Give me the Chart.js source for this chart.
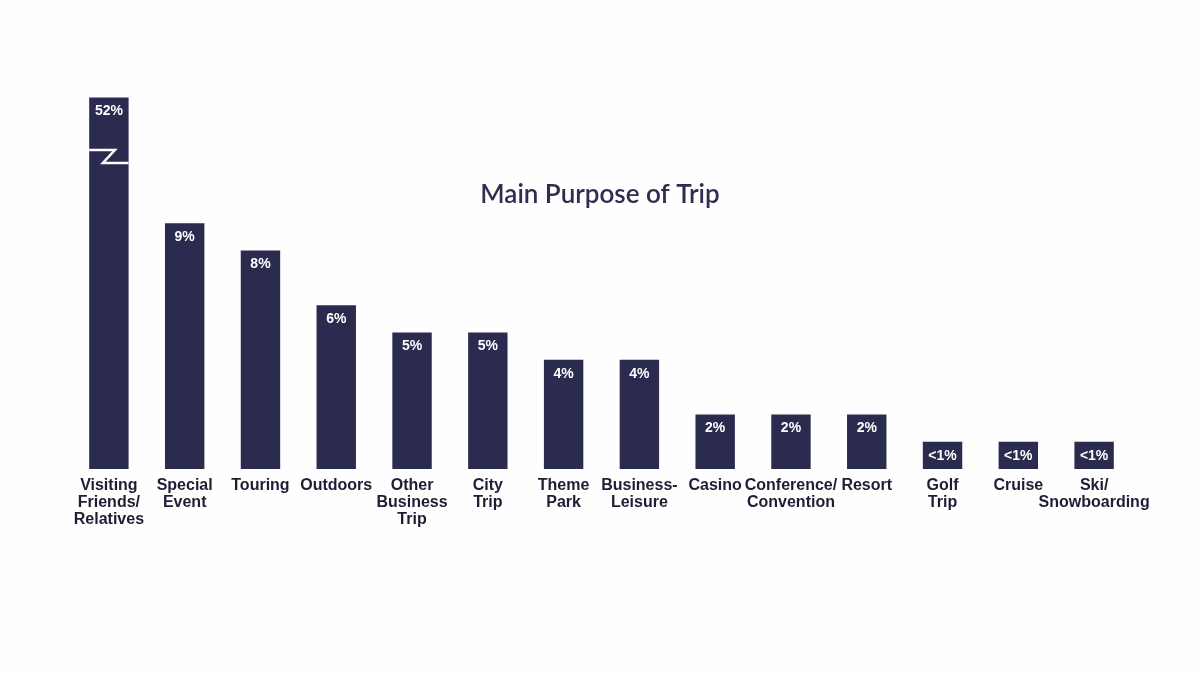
<!DOCTYPE html>
<html>
<head>
<meta charset="utf-8">
<script src="https://cdn.jsdelivr.net/npm/chart.js@4"></script>
<style>
  html, body { margin: 0; padding: 0; background: #fefefe; }
  #wrap { width: 1200px; height: 675px; }
</style>
</head>
<body>
<div id="wrap"><canvas id="tripChart" width="1200" height="675"></canvas></div>
<script>
// --- Dados ---
const categories = [
    ['Visiting', 'Friends/', 'Relatives'], ['Special', 'Event'], ['Touring'], ['Outdoors'],
    ['Other', 'Business', 'Trip'], ['City', 'Trip'], ['Theme', 'Park'], ['Business-', 'Leisure'],
    ['Casino'], ['Conference/', 'Convention'], ['Resort'], ['Golf', 'Trip'], ['Cruise'], ['Ski/', 'Snowboarding']
];
// bar heights as drawn (first bar is broken/truncated)
const barHeights = [13.6, 9, 8, 6, 5, 5, 4, 4, 2, 2, 2, 1, 1, 1];
const valueLabels = ['52%', '9%', '8%', '6%', '5%', '5%', '4%', '4%', '2%', '2%', '2%', '<1%', '<1%', '<1%'];
const brokenBarIndex = 0;

const barColor = '#2b2a4f';

// --- Plugin para rótulos, categorias e quebra ---
const decorPlugin = {
    id: 'decor',
    afterDatasetsDraw(chart) {
        const ctx = chart.ctx;
        const meta = chart.getDatasetMeta(0);
        const xScale = chart.scales.x;
        const base = chart.chartArea.bottom;
        ctx.save();
        ctx.textAlign = 'center';
        ctx.textBaseline = 'top';

        meta.data.forEach((bar, i) => {
            // valor dentro da barra
            ctx.fillStyle = '#ffffff';
            ctx.font = 'bold 14px "Liberation Sans Narrow", "Liberation Sans", sans-serif';
            ctx.fillText(valueLabels[i], bar.x, bar.y + 7);

            // categoria
            ctx.fillStyle = '#1e1d33';
            ctx.font = 'bold 16px "Liberation Sans Narrow", "Liberation Sans", sans-serif';
            const x = xScale.getPixelForValue(i);
            categories[i].forEach((line, j) => ctx.fillText(line, x, base + 9 + j * 17));
        });

        // marca de quebra
        const b = meta.data[brokenBarIndex];
        const half = b.width / 2;
        const y1 = 150, y2 = 163;
        ctx.strokeStyle = '#ffffff';
        ctx.lineWidth = 2.5;
        ctx.beginPath();
        ctx.moveTo(b.x - half, y1);
        ctx.lineTo(b.x + 6, y1);
        ctx.lineTo(b.x - 6, y2);
        ctx.lineTo(b.x + half, y2);
        ctx.stroke();
        ctx.restore();
    }
};

new Chart(document.getElementById('tripChart').getContext('2d'), {
    type: 'bar',
    data: {
        labels: categories,
        datasets: [{
            data: barHeights,
            backgroundColor: barColor,
            barPercentage: 0.52,
            categoryPercentage: 1.0
        }]
    },
    options: {
        responsive: false,
        animation: false,
        layout: { padding: { top: 32, bottom: 206, left: 71, right: 68 } },
        plugins: {
            legend: { display: false },
            tooltip: { enabled: false },
            title: { display: false }
        },
        scales: {
            x: { display: false },
            y: { display: false, min: 0, max: 16 }
        }
    },
    plugins: [decorPlugin, {
        id: 'mainTitle',
        afterDraw(chart) {
            const ctx = chart.ctx;
            ctx.save();
            ctx.fillStyle = '#2e2d52';
            ctx.font = '600 26px Lato, "Open Sans", sans-serif';
            ctx.textAlign = 'center';
            ctx.textBaseline = 'middle';
            ctx.fillText('Main Purpose of Trip', 600, 195);
            ctx.restore();
        }
    }]
});
</script>
</body>
</html>
